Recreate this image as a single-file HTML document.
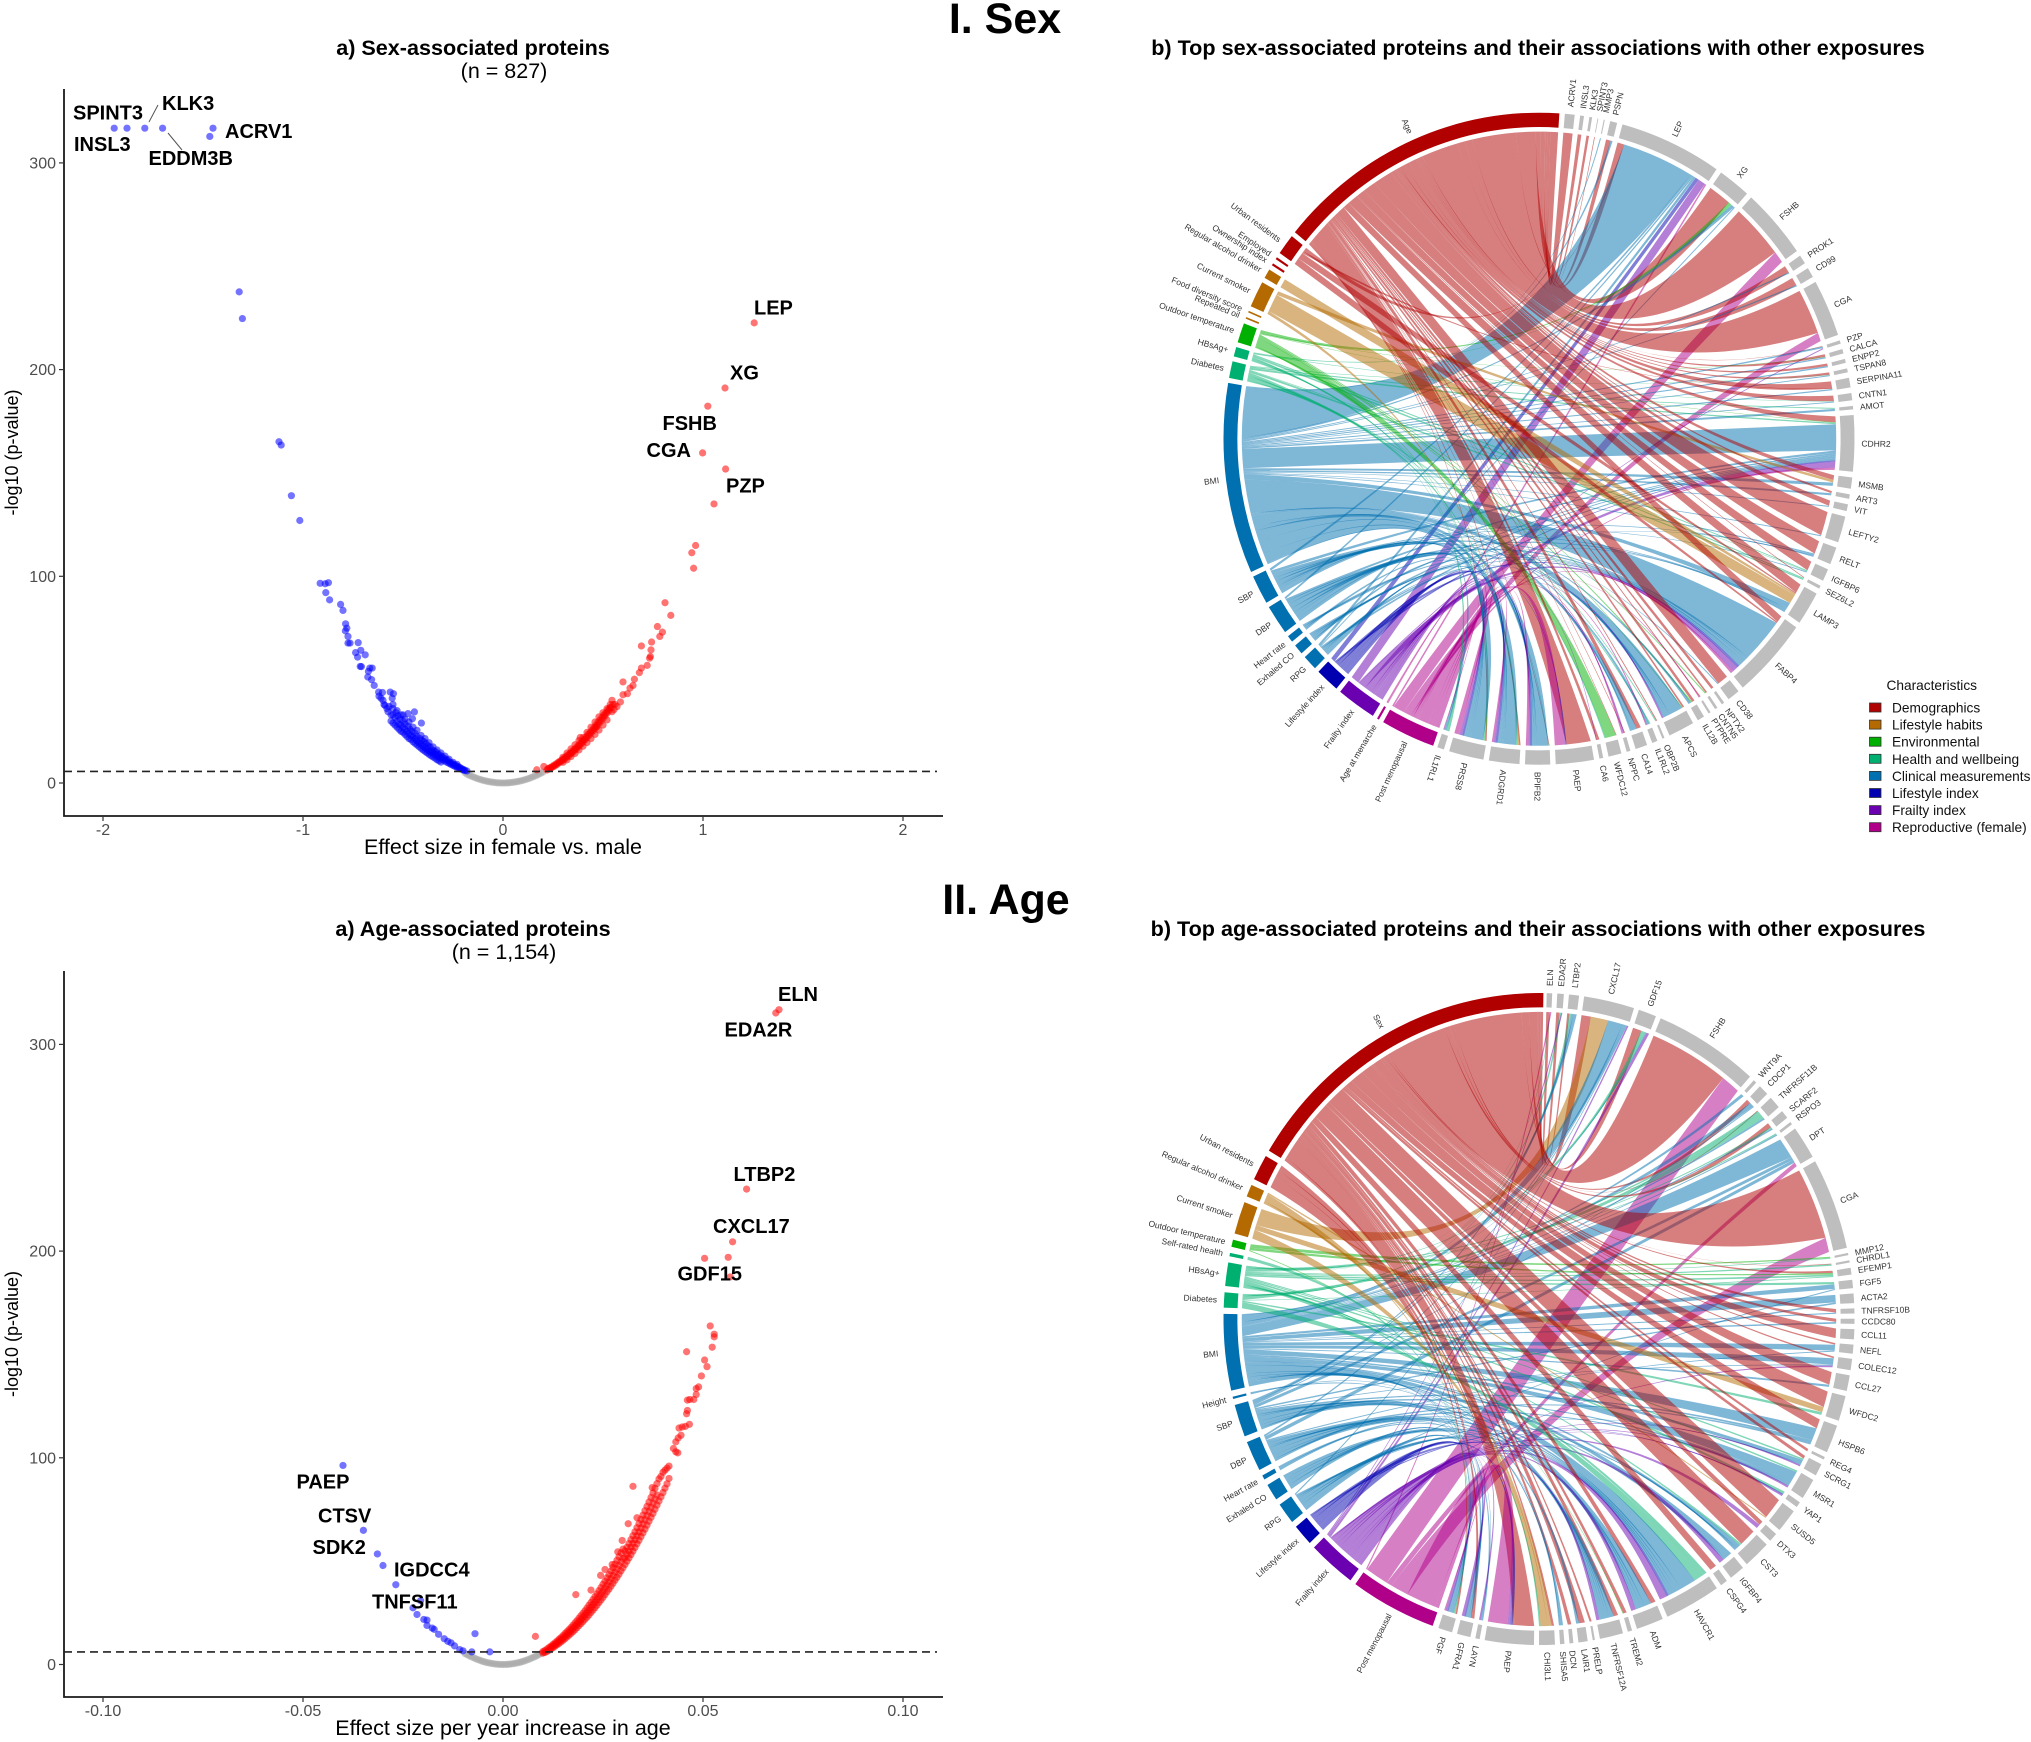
<!DOCTYPE html>
<html lang="en">
<head>
<meta charset="utf-8">
<title>Sex- and age-associated proteins</title>
<style>
html,body{margin:0;padding:0;background:#fff;}
svg{display:block;font-family:"Liberation Sans",sans-serif;}
.tick{font-size:16px;fill:#4d4d4d;}
.rl{font-size:20px;font-weight:bold;fill:#000;}
.ttl{font-size:21.6px;font-weight:bold;fill:#000;text-anchor:middle;}
.sub{font-size:21.5px;fill:#000;text-anchor:middle;}
.hd{font-size:43px;font-weight:bold;fill:#000;text-anchor:middle;}
.xt{font-size:21.5px;fill:#000;text-anchor:middle;}
.yt{font-size:18px;fill:#000;text-anchor:middle;}
.leg{font-size:13.7px;fill:#111;}
.cl{font-size:8.5px;fill:#333;}
</style>
</head>
<body>
<svg id="fig" xmlns="http://www.w3.org/2000/svg" width="2031" height="1742" viewBox="0 0 2031 1742">
<rect width="2031" height="1742" fill="#fff"/>
<text class="hd" x="1005" y="33">I. Sex</text>
<text class="hd" x="1006" y="914">II. Age</text>
<text class="ttl" x="473" y="55">a) Sex-associated proteins</text>
<text class="sub" x="504" y="78">(n = 827)</text>
<text class="ttl" x="1538" y="55">b) Top sex-associated proteins and their associations with other exposures</text>
<text class="ttl" x="473" y="936">a) Age-associated proteins</text>
<text class="sub" x="504" y="959">(n = 1,154)</text>
<text class="ttl" x="1538" y="936">b) Top age-associated proteins and their associations with other exposures</text>
<g id="sexVolcano"></g>
<g id="ageVolcano"></g>
<g id="sexChord"></g>
<g id="ageChord"></g>
<g>
<line x1="149" y1="122" x2="158" y2="105" stroke="#555" stroke-width="1"/>
<line x1="168" y1="133" x2="182" y2="150" stroke="#555" stroke-width="1"/>
<text class="rl" x="73" y="119.5">SPINT3</text>
<text class="rl" x="162" y="110">KLK3</text>
<text class="rl" x="225" y="138">ACRV1</text>
<text class="rl" x="74" y="151">INSL3</text>
<text class="rl" x="148.5" y="165">EDDM3B</text>
<text class="rl" x="754" y="314.5">LEP</text>
<text class="rl" x="730" y="379.5">XG</text>
<text class="rl" x="662.5" y="430">FSHB</text>
<text class="rl" x="646.5" y="457">CGA</text>
<text class="rl" x="726" y="492.5">PZP</text>
</g>
<g>
<text class="rl" x="778" y="1001">ELN</text>
<text class="rl" x="724.5" y="1036.5">EDA2R</text>
<text class="rl" x="733.5" y="1181">LTBP2</text>
<text class="rl" x="713" y="1233">CXCL17</text>
<text class="rl" x="677.5" y="1280.5">GDF15</text>
<text class="rl" x="296.5" y="1488.5">PAEP</text>
<text class="rl" x="318" y="1522.5">CTSV</text>
<text class="rl" x="312.5" y="1554">SDK2</text>
<text class="rl" x="394" y="1576.5">IGDCC4</text>
<text class="rl" x="372" y="1608.5">TNFSF11</text>
</g>
<g id="legend">
<text class="leg" x="1886.5" y="690">Characteristics</text>
</g>
</svg>
<script>
/* ---------- Volcano data: [effect, -log10 p] ---------- */
const sexXTicks = [-2,-1,0,1,2];
const sexXTickLabels = ["-2","-1","0","1","2"];
const ageXTicks = [-0.1,-0.05,0,0.05,0.1];
const ageXTickLabels = ["-0.10","-0.05","0.00","0.05","0.10"];
const yTicks = [0,100,200,300];
const yTickLabels = ["0","100","200","300"];
const sexThreshold = 5.6;
const ageThreshold = 6.1;

const sexGrey = [[-.19,5],[-.18,4.3],[-.17,3.8],[-.16,3.4],[-.15,3],[-.14,2.6],[-.13,2.2],[-.12,1.9],[-.11,1.6],[-.1,1.3],[-.09,1.05],[-.08,.85],[-.07,.65],[-.06,.5],[-.05,.35],[-.04,.2],[-.03,.12],[-.02,.05],[-.01,.02],[0,0],[.01,.02],[.02,.05],[.03,.12],[.04,.2],[.05,.35],[.06,.5],[.07,.65],[.08,.85],[.09,1.05],[.1,1.3],[.11,1.6],[.12,1.9],[.13,2.2],[.14,2.6],[.15,3],[.16,3.4],[.17,3.8],[.18,4.3],[.19,4.8],[.2,5.3]];
const sexDown = [[-1.944,316.8],[-1.88,316.8],[-1.791,316.8],[-1.702,316.8],[-1.45,316.8],[-1.466,312.8],[-1.319,237.6],[-1.303,224.7],[-1.12,165.1],[-1.109,163.5],[-1.058,139],[-1.016,127],[-.914,96.6],[-.889,96.4],[-.873,96.9],[-.886,92.1],[-.867,88.6],[-.812,86.4],[-.8,83.5],[-.787,77],[-.781,74.9],[-.788,73.6],[-.775,70.9],[-.775,67.7],[-.765,67.7],[-.724,67.9],[-.711,64.2],[-.737,63.1],[-.727,60.9],[-.689,62],[-.714,56.4],[-.708,56.3],[-.666,55.6],[-.654,55.6],[-.673,54],[-.676,51.3],[-.657,50],[-.644,47.2],[-.622,44],[-.603,43.8],[-.564,44],[-.548,43.2],[-.554,41],[-.443,34.4],[-.475,33.6],[-.453,31.1],[-.408,29],[-.5,33],
[-.62,42],[-.61,41],[-.6,40],[-.595,38],[-.59,37.5],[-.58,36],[-.575,34.5],[-.57,37],[-.56,33],[-.55,33],[-.55,36],[-.54,31.5],[-.535,34],[-.53,30],[-.525,32.5],[-.52,28.5],[-.515,31],[-.51,28],[-.5,27],[-.5,30],[-.49,26],[-.49,28.5],[-.48,25],[-.475,27.5],[-.47,24],[-.465,26],[-.46,23],[-.455,25],[-.45,22.5],[-.44,21.5],[-.44,24],[-.43,20.5],[-.43,22.5],[-.42,19.5],[-.415,21.5],[-.41,18.8],[-.405,20.5],[-.4,18],[-.395,20],[-.39,17],[-.385,19],[-.38,16.5],[-.375,18],[-.37,15.5],[-.365,17.5],[-.36,15],[-.355,16],[-.35,14.5],[-.345,15.5],[-.34,13.8],[-.335,15],[-.33,13],[-.325,14],[-.32,12.5],[-.315,13.5],[-.31,12],[-.305,12.8],[-.3,11.2],[-.295,12],[-.29,10.6],[-.285,11.5],[-.28,10],[-.275,10.8],[-.27,9.5],[-.265,10],[-.26,9],[-.255,9.5],[-.25,8.5],[-.245,9],[-.24,8],[-.235,8.4],[-.23,7.6],[-.225,8],[-.22,7.2],[-.215,7.5],[-.21,6.8],[-.205,6.9],[-.2,6.3],[-.195,6.4],[-.19,6],[-.18,5.8]];
const sexDownLowerEdge = [[-.56,30],[-.55,29],[-.54,28],[-.53,27],[-.52,26],[-.51,25],[-.5,24.5],[-.49,23.5],[-.48,22.5],[-.47,21.5],[-.46,21],[-.45,20],[-.44,19.2],[-.43,18.4],[-.42,17.6],[-.41,16.8],[-.4,16],[-.39,15.3],[-.38,14.6],[-.37,13.9],[-.36,13.2],[-.35,12.6],[-.34,12],[-.33,11.3],[-.32,10.7],[-.31,10.1]];
const sexDownUpperEdge = [[-.55,38],[-.53,35],[-.51,33],[-.49,31],[-.47,29.5],[-.45,27],[-.43,25.5],[-.41,23],[-.39,21.5],[-.37,19.5],[-.35,17.5],[-.33,16],[-.31,14.5],[-.29,13],[-.27,11.5],[-.25,10],[-.23,9]];
const sexUp = [[1.256,222.6],[1.11,191.1],[1.024,182.3],[.998,159.7],[1.113,151.9],[1.055,135],[.963,114.9],[.944,111.4],[.953,103.9],[.81,87.2],[.839,81.1],[.772,75.7],[.797,73],[.784,70.9],[.743,68.2],[.692,66.3],[.74,64.4],[.737,61.2],[.733,60.4],[.721,56.9],[.692,55.6],[.682,53.4],[.657,50.2],[.6,48.9],[.65,47.2],[.635,45.9],[.622,43.2],[.6,42.7],[.545,40],[.587,39.2],[.536,37.9],[.386,22],[.466,27],[.169,6.4],[.204,8],[.56,38],[.57,37],[.555,35.5],[.545,34.5],
[.22,6.3],[.225,7],[.23,6.8],[.235,7.4],[.24,7.2],[.245,7.9],[.25,7.8],[.255,8.6],[.26,8.3],[.265,9.2],[.27,9],[.275,9.9],[.28,9.7],[.285,10.6],[.29,10.4],[.295,11.2],[.3,11],[.305,12],[.31,11.8],[.315,12.8],[.32,12.5],[.325,13.6],[.33,13.3],[.335,14.4],[.34,14.2],[.345,15.3],[.35,15],[.355,16.1],[.36,16],[.365,17],[.37,16.8],[.375,18],[.38,17.8],[.385,19],[.39,18.8],[.395,20.2],[.4,19.8],[.405,21],[.41,21],[.415,22.3],[.42,22],[.425,23.5],[.43,23],[.435,24.4],[.44,24.2],[.445,25.6],[.45,25.2],[.455,26.8],[.46,26.4],[.465,28],[.47,27.5],[.475,29.4],[.48,28.8],[.485,30.5],[.49,30],[.495,31.8],[.5,31.2],[.505,33],[.51,32.5],[.515,34],[.52,33.8],[.525,35.5],[.53,35],[.535,36.5],[.54,36.5],[.55,38]];
const sexUpLowerEdge = [[.3,10],[.32,11.2],[.34,12.8],[.36,14.3],[.38,16],[.4,17.8],[.42,19.6],[.44,21.5],[.46,23.5],[.48,25.6],[.5,28],[.52,30.5]];
const sexUpUpperEdge = [[.3,12.5],[.32,14.5],[.34,16.5],[.36,18.5],[.38,20.5],[.4,22],[.42,24.5],[.44,27],[.46,29.5],[.48,32],[.5,34],[.52,36]];

const ageGrey = [[-.0095,5.3],[-.009,4.8],[-.0085,4.3],[-.008,3.8],[-.0075,3.4],[-.007,3],[-.0065,2.5],[-.006,2.2],[-.0055,1.8],[-.005,1.5],[-.0045,1.2],[-.004,.95],[-.0035,.75],[-.003,.55],[-.0025,.4],[-.002,.25],[-.0015,.15],[-.001,.06],[-.0005,.02],[0,0],[.0005,.02],[.001,.06],[.0015,.15],[.002,.25],[.0025,.4],[.003,.55],[.0035,.75],[.004,.95],[.0045,1.2],[.005,1.5],[.0055,1.8],[.006,2.2],[.0065,2.5],[.007,3],[.0075,3.4],[.008,3.8],[.0085,4.3],[.009,4.8],[.0095,5.3],[.01,5.7]];
const ageDown = [[-.04,96.3],[-.0349,64.9],[-.0314,53.5],[-.03,47.9],[-.0268,38.6],[-.0206,30.9],[-.0225,27.4],[-.0215,24.2],[-.0198,21.8],[-.019,21.5],[-.019,18.9],[-.0177,17.6],[-.0172,17],[-.0161,14.6],[-.0147,12.5],[-.0138,11.2],[-.013,10.5],[-.0121,9],[-.0108,7.2],[-.01,6.6],[-.007,14.9],[-.0033,6.1],[-.0078,6.1]];
const ageUp = [[.069,316.8],[.0682,315.2],[.0609,230],[.0574,204.5],[.0504,196.5],[.0563,197],[.0568,187.5],[.0518,163.8],[.0528,159.8],[.0528,158.5],[.0523,153.5],[.0459,151.3],[.0504,147.3],[.051,144.1],[.0496,139.6],[.0489,134.3],[.0483,133.5],[.0483,130.6],[.0477,128.2],[.0461,127.9],[.0467,128.2],[.0461,122.9],[.0459,121.3],[.0466,116.2],[.0456,115.2],[.0448,114.9],[.044,114.4],[.0445,110.9],[.0438,109.6],[.0432,107.7],[.0426,104.5],[.0432,102.9],[.0437,102.4],[.0325,86.2],[.0313,68.1],[.0182,33.8],[.0081,13.6],[.0287,54.5],[.0244,43.1],[.0273,48.4],[.0373,85.6],[.0335,71],[.0298,60],[.0255,46],[.022,36],
[.01,5.5],[.01,6.3],[.0105,5.8],[.0105,6.8],[.011,6.3],[.011,7.5],[.0115,6.9],[.0115,8.2],[.012,7.5],[.012,8.9],[.0125,8.1],[.0125,9.7],[.013,8.8],[.013,10.5],[.0135,9.5],[.0135,11.3],[.014,10.2],[.014,12.2],[.0145,10.9],[.0145,13],[.015,11.7],[.015,14],[.0155,12.5],[.0155,15],[.016,13.3],[.016,15.9],[.0165,14.2],[.0165,16.9],[.017,15],[.017,17.9],[.0175,15.9],[.0175,19],[.018,16.8],[.018,20.1],[.0185,17.8],[.0185,21.2],[.019,18.8],[.019,22.4],[.0195,19.8],[.0195,23.6],[.02,20.8],[.02,24.8],[.0205,21.9],[.0205,26],[.021,22.9],[.021,27.3],[.0215,24],[.0215,28.7],[.022,25.2],[.022,30],[.0225,26.3],[.0225,31.4],[.023,27.5],[.023,32.8],[.0235,28.7],[.0235,34.2],[.024,30],[.024,35.7],[.0245,31.2],[.0245,37.2],[.025,32.5],[.025,38.8],[.0255,33.8],[.0255,40.3],[.026,35.2],[.026,41.9],[.0265,36.5],[.0265,43.5],[.027,37.9],[.027,45.2],[.0275,39.3],[.0275,46.9],[.028,40.8],[.028,48.6],[.0285,42.2],[.0285,50.4],[.029,43.7],[.029,52.1],[.0295,45.3],[.0295,54],[.03,46.8],[.03,55.8],[.0305,48.4],[.0305,54.9],[.031,50],[.031,56.7],[.0315,51.6],[.0315,58.5],[.032,53.2],[.032,60.4],[.0325,54.9],[.0325,62.3],[.033,56.6],[.033,64.2],[.0335,58.4],[.0335,66.2],[.034,60.1],[.034,68.2],[.0345,61.9],[.0345,70.2],[.035,63.7],[.035,72.3],[.0355,65.5],[.0355,74.4],[.036,67.4],[.036,76.5],[.0365,69.3],[.0365,78.6],[.037,71.2],[.037,80.8],[.0375,73.1],[.0375,83],[.038,75.1],[.038,85.2],[.0385,77.1],[.0385,87.5],[.039,79.1],[.039,89.8],[.0395,81.1],[.0395,91],[.04,83.2],[.04,93],[.0405,85.3],[.0405,94],[.041,87.4],[.041,95],[.0415,90],[.0415,96]];
const ageUpMiddle = [[.012,8.2],[.0125,8.9],[.013,9.6],[.0135,10.4],[.014,11.2],[.0145,12],[.015,12.8],[.0155,13.7],[.016,14.6],[.0165,15.5],[.017,16.5],[.0175,17.5],[.018,18.5],[.0185,19.5],[.019,20.6],[.0195,21.7],[.02,22.8],[.0205,24],[.021,25.1],[.0215,26.3],[.022,27.6],[.0225,28.9],[.023,30.2],[.0235,31.5],[.024,32.8],[.0245,34.2],[.025,35.6],[.0255,37.1],[.026,38.5],[.0265,40],[.027,41.6],[.0275,43.1],[.028,44.7],[.0285,46.3],[.029,47.9],[.0295,49.6],[.03,51.3],[.0305,51.6],[.031,53.3],[.0315,55],[.032,56.8],[.0325,58.6],[.033,60.4],[.0335,62.3],[.034,64.1],[.0345,66],[.035,68],[.0355,70],[.036,72],[.0365,74],[.037,76],[.0375,78],[.038,80],[.0385,82]];

/* ---------- Chord data ---------- */
const groupColors = {dem:"#b00000",hab:"#b46a00",env:"#00b000",hea:"#00b070",cli:"#0070b0",lif:"#0000b0",fra:"#6a00b0",rep:"#b0008a"};
const legendLabels = ["Demographics","Lifestyle habits","Environmental","Health and wellbeing","Clinical measurements","Lifestyle index","Frailty index","Reproductive (female)"];
const legendGroups = ["dem","hab","env","hea","cli","lif","fra","rep"];

const sexExposureNames = ["Post menopausal","Age at menarche","Frailty index","Lifestyle index","RPG","Exhaled CO","Heart rate","DBP","SBP","BMI","Diabetes","HBsAg+","Outdoor temperature","Repeated oil","Food diversity score","Current smoker","Regular alcohol drinker","Ownership index","Employed","Urban residents","Age"];
const sexExposureCodes = ["Po","Me","Fr","Li","Rp","Co","Hr","D","S","B","Di","Hb","Ou","Re","Fo","Sm","Al","Ow","Em","Ur","Ag"];
const sexExposureGroups = ["rep","rep","fra","lif","cli","cli","cli","cli","cli","cli","hea","hea","env","hab","hab","hab","hab","dem","dem","dem","dem"];
const sexExposureSizes = [10,.4,7.3,4.4,2.7,1.8,1.2,5.3,5.2,34,3,1.7,3.5,.3,.3,4.7,1.7,.4,.4,3.7,54.4];
const sexProteinNames = ["ACRV1","INSL3","KLK3","SPINT3","MMP3","PSPN","LEP","XG","FSHB","PROK1","CD99","CGA","PZP","CALCA","ENPP2","TSPAN8","SERPINA11","CNTN1","AMOT","CDHR2","MSMB","ART3","VIT","LEFTY2","RELT","IGFBP6","SEZ6L2","LAMP3","FABP4","CD38","NPTX2","CNTN5","PTPRE","IL12B","APCS","OBP2B","IL1RL2","CA14","NPPC","WFDC12","CA6","PAEP","BPIFB2","ADGRD1","PRSS8","IL1RL1"];
const sexProteinSizes = [1.8,.7,.5,.15,.2,1.3,18.9,6,12.6,1.6,1.8,10.2,.6,.8,.7,.7,1.7,1.3,.6,10,2,.8,1.2,4.7,3.1,2.2,.55,6,14.4,2.3,.5,.5,.4,1.3,4.8,.4,1,2.2,.7,2.4,.7,7,4.6,5.6,6.4,1.25];
const sexLinks = {
ACRV1:{Ag:1.8},INSL3:{Ag:.7},KLK3:{Ag:.5},SPINT3:{Ag:.15},MMP3:{B:.2},PSPN:{Ag:.9,B:.4},
LEP:{Ag:1.2,Ur:.2,B:14.5,S:.4,D:.3,Rp:.5,Li:.7,Fr:1.5,Po:.3},
XG:{Ag:4.6,Ou:.6,Hb:.2,B:.6,Rp:.2},
FSHB:{Ag:10.4,Po:2.2},PROK1:{Ag:1.7,B:.3},CD99:{Ag:1.9,B:.3},CGA:{Ag:8.6,Po:1.6},
PZP:{Ag:.1,B:.3,Fr:.2},CALCA:{Ag:.6,Ou:.1,B:.3},ENPP2:{Ag:.5,B:.3},TSPAN8:{Ag:.5,Di:.1,B:.2},
SERPINA11:{Ag:1.7,Ur:.1,B:.3},CNTN1:{Ag:1.2,Hb:.1,B:.2},AMOT:{Di:.2,B:.4},
CDHR2:{Ag:1.3,Di:.3,Ou:.1,B:5.6,S:.5,D:.4,Hr:.3,Co:.4,Rp:.5,Li:.3,Fr:1.3,Po:.5},
MSMB:{Ag:.9,Sm:.5,B:.6},ART3:{Ag:.4,B:.4},VIT:{Ag:1,B:.2},LEFTY2:{Ag:4.5,B:.2},
RELT:{Ag:3,S:.3,B:.3,Co:.2},IGFBP6:{Ag:2,Hb:.2,Di:.1,S:.2},SEZ6L2:{Ag:.2,Hb:.3,Di:.3},
LAMP3:{Ag:2.4,Ur:.3,Al:.4,Sm:2.4,B:1.6,S:.4,D:.5,Co:.3},
FABP4:{Ag:1.5,Ur:.3,B:10,S:.6,D:.8,Hr:.3,Co:.5,Rp:.5,Li:.6,Fr:1.3,Po:.6},
CD38:{Ag:2.1,B:.2},NPTX2:{Ag:.5},CNTN5:{Ag:.3,Ou:.2},PTPRE:{Ag:.2,Po:.2},IL12B:{Ag:.5,Ou:.3,B:.5},
APCS:{Ag:.4,Ou:.2,B:3.2,S:.6,D:.7,Rp:.3,Fr:.4},OBP2B:{Ag:.2,Di:.2},IL1RL2:{Di:.2,B:.4,Po:.2},
CA14:{Ag:.8,B:1,S:.3},NPPC:{Ag:.1,Fr:.2,Po:.2},WFDC12:{Ag:.1,Ou:1.7,Di:.2},CA6:{Ag:.5,Fr:.1},
PAEP:{Ag:5,Li:.2,Fr:.2,Po:2},BPIFB2:{Ag:.2,Hb:.2,B:3.2,S:.4,D:.5,Rp:.4,Li:.6,Fr:.4,Po:.7},
ADGRD1:{Ag:.4,Sm:.4,Di:.6,B:3.8,S:.5,D:.6,Hr:.3,Rp:.4,Li:.7,Fr:.5,Po:.6},
PRSS8:{Ag:.3,Ou:.3,Hb:.3,B:3,S:.5,D:.5,Co:.4,Rp:.3,Li:.5,Fr:.6,Me:.3,Po:1},
IL1RL1:{Hb:.2,Di:.2,B:.3,Me:.1}
};

const ageExposureNames = ["Post menopausal","Frailty index","Lifestyle index","RPG","Exhaled CO","Heart rate","DBP","SBP","Height","BMI","Diabetes","HBsAg+","Self-rated health","Outdoor temperature","Current smoker","Regular alcohol drinker","Urban residents","Sex"];
const ageExposureCodes = ["Po","Fr","Li","Rp","Co","Hr","D","S","Ht","B","Di","Hb","Se","Ou","Sm","Al","Ur","Sx"];
const ageExposureGroups = ["rep","fra","lif","cli","cli","cli","cli","cli","cli","cli","hea","hea","hea","env","hab","hab","dem","dem"];
const ageExposureSizes = [15.9,8.8,3.8,3.8,3,.8,5.4,5.8,.4,13.6,2.7,4.2,.6,1.3,5.8,2.2,4.6,59.7];
const ageProteinNames = ["ELN","EDA2R","LTBP2","CXCL17","GDF15","FSHB","WNT9A","CDCP1","TNFRSF11B","SCARF2","RSPO3","DPT","CGA","MMP12","CHRDL1","EFEMP1","FGF5","ACTA2","TNFRSF10B","CCDC80","CCL11","NEFL","COLEC12","CCL27","WFDC2","HSPB6","REG4","SCRG1","MSR1","YAP1","SUSD5","DTX3","CST3","IGFBP4","CSPG4","HAVCR1","ADM","TREM2","TNFRSF12A","PRELP","LAIR1","DCN","SHISA5","CHI3L1","PAEP","LAYN","GFRA1","PGF"];
const ageProteinSizes = [1,1.2,1.85,9.3,3.3,19.3,.6,1.9,2.2,1.5,.5,5.9,16.3,.4,.4,1.2,1.5,1.7,.9,.9,1.8,1.6,2,2.8,4.5,5,.5,2.2,3.7,1,4.2,1.6,5,2.8,1.3,10.3,5,.8,4.3,.4,1.7,.7,.8,2.9,9,.8,2.5,2.6];
const ageLinks = {
ELN:{Sx:.5,Hb:.1,Po:.2},EDA2R:{Sx:.5,Di:.3,Fr:.2},LTBP2:{Sx:.3,Di:.3,S:.5,B:.3},
CXCL17:{Sx:1.8,Sm:3.4,B:2.8,S:.4,D:.3,Rp:.2,Fr:.3},GDF15:{Sx:1.6,Hb:.5,Di:.3,B:.2,Fr:.5},
FSHB:{Sx:15,Po:3.5},WNT9A:{B:.3},CDCP1:{Sx:.9,B:.9,S:.2},TNFRSF11B:{Sx:.2,Hb:.6,Di:1.3,B:.4},
SCARF2:{Sx:1,Hb:.3,B:.3},RSPO3:{Hb:.2,B:.2},DPT:{B:4,S:.6,D:.6,Po:.8},CGA:{Sx:13.6,Po:2.7},
MMP12:{Ou:.4,Hb:.2},CHRDL1:{Sx:.1,Hb:.3},EFEMP1:{Sx:.5,Ou:.3,Hb:.4,Di:.2},FGF5:{Hb:.4,B:.8,Rp:.2},
ACTA2:{B:1.4,S:.3},TNFRSF10B:{Sx:.6,B:.2},CCDC80:{Sx:.6,B:.3},CCL11:{Sx:1.8},NEFL:{Sx:.3,B:1.1,D:.2},
COLEC12:{Sx:.3,B:1.2,S:.2,Fr:.3},CCL27:{Sx:2.4,B:.4},WFDC2:{Sx:3,Sm:1,Di:.5},
HSPB6:{Sx:1.6,B:2.2,S:.4,D:.4},REG4:{Sx:.4},SCRG1:{Sx:.6,Hb:.3,B:.8,Rp:.2,Fr:.3},
MSR1:{Hb:.3,B:2,D:.5,S:.5,Fr:.4},YAP1:{Hb:.5,Fr:.3,Li:.2},SUSD5:{Sx:4,Al:.2},DTX3:{Sx:.8,Fr:.8},
CST3:{Sx:3.4,Hb:.4,B:.8,D:.3,Rp:.3},IGFBP4:{B:1.2,S:.4,Fr:.8},CSPG4:{Sx:1.3},
HAVCR1:{Di:2.2,Hb:.8,B:3.5,S:1,D:.8,Co:.6,Rp:.6,Li:.5,Fr:1.6},
ADM:{Sx:1,B:1.4,S:.7,D:.7,Co:.5,Fr:1},TREM2:{Sx:.5,Ou:.1},
TNFRSF12A:{Sx:1,B:1,S:.6,D:.6,Co:.6,Rp:.5,Fr:.7},PRELP:{Sx:.3},LAIR1:{Sx:1,B:.5},DCN:{Sx:.5},
SHISA5:{B:.3,Ht:.2,Hr:.2},CHI3L1:{Sx:.6,Al:1,Sm:1.8,Hb:.4},PAEP:{Sx:4.5,Ur:.4,Li:.6,Fr:.6,Po:4.5},
LAYN:{B:.4,Fr:.4,Hr:.2},GFRA1:{Sx:.7,Ur:.5,B:.9,Co:.3,Rp:.6,Li:.5,Fr:.9},
PGF:{Ur:.8,Al:.3,Hb:.6,B:1,S:.4,D:.4,Co:.4,Rp:.5,Li:.6,Fr:1,Ht:.1,Se:.2,Po:.6}
};

/* ---------- Helpers ---------- */
const NS = "http://www.w3.org/2000/svg";
function mk(parent, tag, attrs) {
  const el = document.createElementNS(NS, tag);
  for (const k in attrs) el.setAttribute(k, attrs[k]);
  parent.appendChild(el);
  return el;
}
function slug(s) { return s.toLowerCase().replace(/[^a-z0-9]+/g, "-"); }

/* ---------- Volcano ---------- */
function drawVolcano(root, o) {
  const sx = v => o.x0 + v * o.xScale;
  const sy = v => o.y0 - v * o.yScale;
  const axis = mk(root, "path", {d:`M${o.left} ${o.top}V${o.bottom}H${o.right}`, fill:"none", stroke:"#1a1a1a", "stroke-width":1.8});
  
  
  o.yTicks.forEach((v, i) => {
    const t = mk(root, "line", {x1:o.left-5, x2:o.left, y1:sy(v), y2:sy(v), stroke:"#333", "stroke-width":1.2});
    
    
    const l = mk(root, "text", {x:o.left-8, y:sy(v)+5.5, "text-anchor":"end", class:"tick"});
    
    
    l.textContent = o.yLabels[i];
  });
  o.xTicks.forEach((v, i) => {
    const t = mk(root, "line", {x1:sx(v), x2:sx(v), y1:o.bottom, y2:o.bottom+5, stroke:"#333", "stroke-width":1.2});
    
    
    const l = mk(root, "text", {x:sx(v), y:o.bottom+19, "text-anchor":"middle", class:"tick"});
    
    
    l.textContent = o.xLabels[i];
  });
  const xt = mk(root, "text", {x:sx(0), y:o.bottom+38, class:"xt"});
  
  
  xt.textContent = o.xTitle;
  const midY = (o.top + o.bottom) / 2;
  const yt = mk(root, "text", {x:18, y:midY, class:"yt", transform:`rotate(-90 18 ${midY})`});
  
  
  yt.textContent = "-log10 (p-value)";
  const dots = (arr, col, name) => arr.forEach(p => {
    const c = mk(root, "circle", {cx:sx(p[0]), cy:sy(p[1]), r:3.6, fill:col, "fill-opacity":.55});
    
    
  });
  dots(o.grey, "#a8a8a8", "point-not-significant");
  dots(o.down, "#0000ff", "point-negative");
  dots(o.up, "#ff0000", "point-positive");
  const th = mk(root, "line", {x1:o.left, x2:o.right-6, y1:sy(o.threshold), y2:sy(o.threshold), stroke:"#222", "stroke-width":1.6, "stroke-dasharray":"8 5"});
  
  
}

drawVolcano(document.getElementById("sexVolcano"), {
  left:64, right:943, top:89, bottom:816, x0:503, y0:783, xScale:200, yScale:2.067,
  xTicks:sexXTicks, xLabels:sexXTickLabels, yTicks:yTicks, yLabels:yTickLabels,
  xTitle:"Effect size in female vs. male", threshold:sexThreshold, grey:sexGrey,
  down:sexDown.concat(sexDownLowerEdge, sexDownUpperEdge), up:sexUp.concat(sexUpLowerEdge, sexUpUpperEdge)
});
drawVolcano(document.getElementById("ageVolcano"), {
  left:64, right:943, top:971, bottom:1697, x0:503, y0:1664.5, xScale:4000, yScale:2.067,
  xTicks:ageXTicks, xLabels:ageXTickLabels, yTicks:yTicks, yLabels:yTickLabels,
  xTitle:"Effect size per year increase in age", threshold:ageThreshold, grey:ageGrey,
  down:ageDown, up:ageUp.concat(ageUpMiddle)
});

/* ---------- Chord ---------- */
function drawChord(root, o) {
  const rad = d => d * Math.PI / 180;
  const pt = (r, a) => [o.cx + o.rx * r * Math.sin(rad(a)), o.cy - o.ry * r * Math.cos(rad(a))];
  const layout = (sizes, a0, a1) => {
    const sum = sizes.reduce((s, v) => s + v, 0);
    const gap = (a1 - a0 - sum) / (sizes.length - 1);
    let a = a0;
    return sizes.map(v => { const r = [a, a + v]; a += v + gap; return r; });
  };
  const eArc = layout(o.expSizes, o.expStart, o.expEnd);
  const pArc = layout(o.proSizes, o.proStart, o.proEnd);
  const RL = 0.942, RO = 1, RI = 0.956;
  const rowSum = o.expCodes.map(() => 0);
  const colSum = o.proNames.map(n => {
    const m = o.links[n] || {};
    let s = 0;
    o.expCodes.forEach((c, i) => { if (m[c]) { s += m[c]; rowSum[i] += m[c]; } });
    return s;
  });
  const pCursor = pArc.map(r => r[0]);
  const eCursor = eArc.map(r => r[1]);
  const ctrl = (a, b) => {
    const mx = (a[0] + b[0]) / 2 - o.cx, my = (a[1] + b[1]) / 2 - o.cy;
    const mag = Math.min(1, Math.hypot(mx / o.rx, my / o.ry));
    const k = Math.pow(1 - mag, 2);
    return `${o.cx + mx * k} ${o.cy + my * k}`;
  };
  const ribbons = [];
  o.proNames.forEach((name, pi) => {
    const m = o.links[name] || {};
    for (let ei = o.expCodes.length - 1; ei >= 0; ei--) {
      const v = m[o.expCodes[ei]];
      if (!v) continue;
      const wp = v / colSum[pi] * o.proSizes[pi];
      const we = v / rowSum[ei] * o.expSizes[ei];
      const p0 = pCursor[pi], p1 = p0 + wp;
      pCursor[pi] = p1;
      ribbons.push({ei, pi, p0, p1, we});
    }
  });
  ribbons.forEach(l => {
    const e1 = eCursor[l.ei], e0 = e1 - l.we;
    eCursor[l.ei] = e0;
    const A = pt(RL, e0), B = pt(RL, e1), C = pt(RL, l.p0), D = pt(RL, l.p1);
    const arc = `A${o.rx * RL} ${o.ry * RL} 0 0 1`;
    const d = `M${A[0]} ${A[1]}${arc} ${B[0]} ${B[1]}Q${ctrl(B, C)} ${C[0]} ${C[1]}${arc} ${D[0]} ${D[1]}Q${ctrl(D, A)} ${A[0]} ${A[1]}Z`;
    const el = mk(root, "path", {d:d, fill:groupColors[o.expGroups[l.ei]], "fill-opacity":.5});
    
    
  });
  const sector = (a0, a1, col, label, isProtein) => {
    const a = pt(RO, a0), b = pt(RO, a1), c = pt(RI, a1), d = pt(RI, a0);
    const el = mk(root, "path", {fill:col, d:`M${a[0]} ${a[1]}A${o.rx} ${o.ry} 0 0 1 ${b[0]} ${b[1]}L${c[0]} ${c[1]}A${o.rx * RI} ${o.ry * RI} 0 0 0 ${d[0]} ${d[1]}Z`});
    
    
    const mid = (a0 + a1) / 2, p = pt(1.022, mid);
    const rot = isProtein ? mid - 90 : mid + 90;
    const t = mk(root, "text", {class:"cl", x:0, y:0, dy:".35em", "text-anchor":isProtein ? "start" : "end", transform:`translate(${p[0]} ${p[1]}) rotate(${rot})`});
    
    
    t.textContent = label;
  };
  o.expNames.forEach((n, i) => sector(eArc[i][0], eArc[i][1], groupColors[o.expGroups[i]], n, false));
  o.proNames.forEach((n, i) => sector(pArc[i][0], pArc[i][1], "#bebebe", n, true));
}

drawChord(document.getElementById("sexChord"), {
  cx:1539, cy:438.7, rx:315.5, ry:326,
  expNames:sexExposureNames, expCodes:sexExposureCodes, expGroups:sexExposureGroups, expSizes:sexExposureSizes,
  proNames:sexProteinNames, proSizes:sexProteinSizes, links:sexLinks,
  expStart:-160.4, expEnd:3.7, proStart:4.7, proEnd:198.8
});
drawChord(document.getElementById("ageChord"), {
  cx:1539, cy:1319, rx:315.5, ry:326,
  expNames:ageExposureNames, expCodes:ageExposureCodes, expGroups:ageExposureGroups, expSizes:ageExposureSizes,
  proNames:ageProteinNames, proSizes:ageProteinSizes, links:ageLinks,
  expStart:-160.3, expEnd:.8, proStart:1.4, proEnd:198.6
});

/* ---------- Legend ---------- */
const legendRoot = document.getElementById("legend");
legendLabels.forEach((label, i) => {
  const yc = 707.5 + i * 17.1;
  const k = mk(legendRoot, "rect", {x:1869.5, y:yc - 4.5, width:11.5, height:9, fill:groupColors[legendGroups[i]], stroke:"#333", "stroke-width":.8});
  
  
  const t = mk(legendRoot, "text", {x:1892, y:yc + 5, class:"leg"});
  
  
  t.textContent = label;
});
</script>
</body>
</html>
